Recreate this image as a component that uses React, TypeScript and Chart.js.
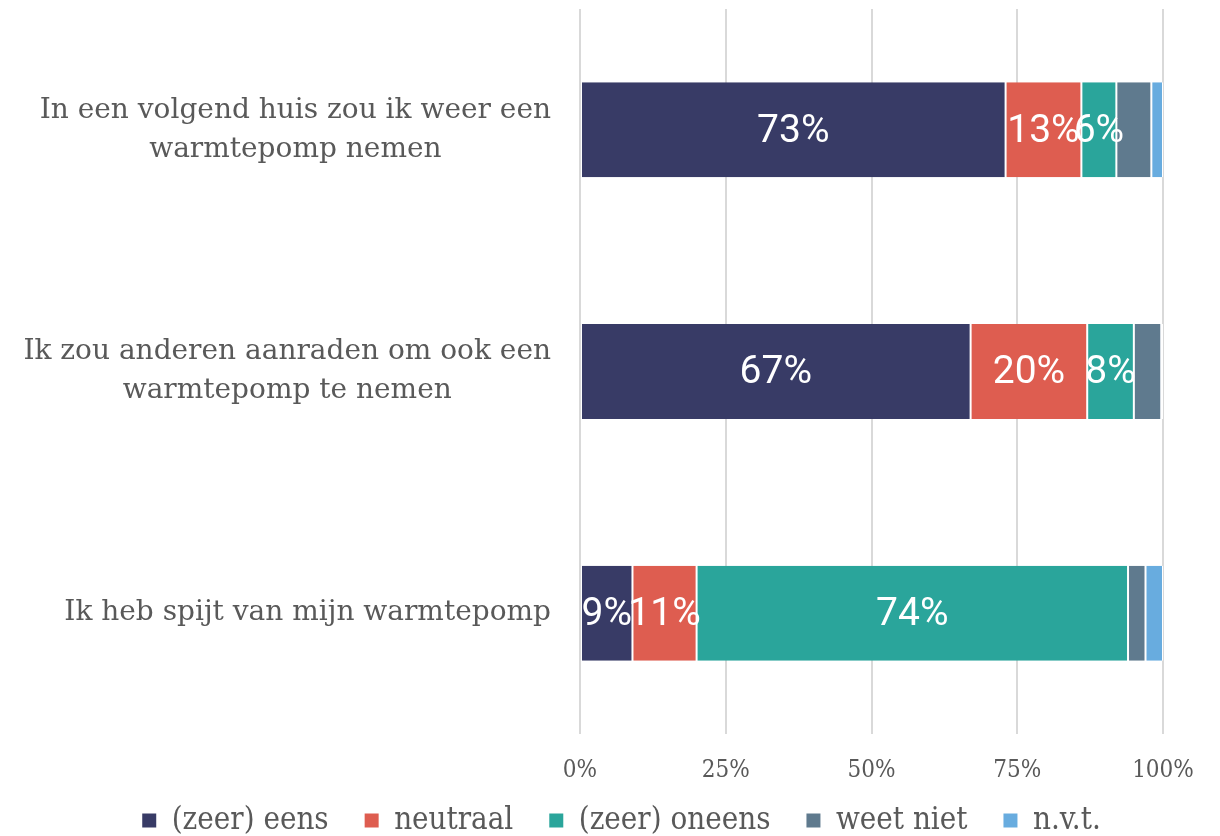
import React, { useEffect, useRef } from "react";
import { Chart, registerables } from "chart.js";

Chart.register(...registerables);

const categories: string[][] = [
  ["In een volgend huis zou ik weer een", "warmtepomp nemen"],
  ["Ik zou anderen aanraden om ook een", "warmtepomp te nemen"],
  ["Ik heb spijt van mijn warmtepomp"],
];
const seriesNames = ["(zeer) eens", "neutraal", "(zeer) oneens", "weet niet", "n.v.t."];
const eens = [73, 67, 9];
const neutraal = [13, 20, 11];
const oneens = [6, 8, 74];
const weetNiet = [6, 4.7, 3];
const nvt = [2, 0.3, 3];
const colors = ["#383B66", "#DE5D50", "#2AA59B", "#5F7A8E", "#68ACDF"];
const labeledSeries = [0, 1, 2];
const xTicks = ["0%", "25%", "50%", "75%", "100%"];

const CAT_FONT = "28px 'DejaVu Serif'";
const CAT_LINE = 39;
const CAT_GAP = 29;

const labelPlugin = {
  id: "segLabels",
  beforeDraw(chart: any) {
    // let x tick labels extend below the (short) axis box
    chart.scales.x._computeLabelArea = () => undefined;
  },
  afterDatasetsDraw(chart: any) {
    const ctx = chart.ctx;
    ctx.save();
    ctx.fillStyle = "#ffffff";
    ctx.font = "400 39px Roboto";
    ctx.textAlign = "center";
    ctx.textBaseline = "middle";
    labeledSeries.forEach((di) => {
      const meta = chart.getDatasetMeta(di);
      meta.data.forEach((bar: any, i: number) => {
        const v = chart.data.datasets[di].data[i];
        const cx = (bar.x + bar.base) / 2;
        ctx.fillText(Math.round(v) + "%", cx, bar.y + 2);
      });
    });
    ctx.restore();
  },
};

const catLabelPlugin = {
  id: "catLabels",
  afterDraw(chart: any) {
    const ctx = chart.ctx;
    const yScale = chart.scales.y;
    const right = chart.chartArea.left - CAT_GAP;
    ctx.save();
    ctx.font = CAT_FONT;
    ctx.fillStyle = "#595959";
    ctx.textAlign = "center";
    ctx.textBaseline = "middle";
    (chart.data.labels as string[][]).forEach((lines, i) => {
      const y = yScale.getPixelForTick(i);
      const maxW = Math.max(...lines.map((l) => ctx.measureText(l).width));
      const cx = right - maxW / 2;
      lines.forEach((l, k) => {
        ctx.fillText(l, cx, y + (k - (lines.length - 1) / 2) * CAT_LINE);
      });
    });
    ctx.restore();
  },
};

export default function App() {
  const ref = useRef<HTMLCanvasElement>(null);
  useEffect(() => {
    const data = [eens, neutraal, oneens, weetNiet, nvt];
    const chart = new Chart(ref.current!, {
      type: "bar",
      data: {
        labels: categories,
        datasets: seriesNames.map((n, i) => ({
          label: n,
          data: data[i],
          backgroundColor: colors[i],
          borderColor: "#ffffff",
          borderWidth: { left: 1, right: 1, top: 0, bottom: 0 } as any,
          borderSkipped: false,
          categoryPercentage: 0.393,
          barPercentage: 1,
        })),
      },
      options: {
        indexAxis: "y",
        animation: false,
        responsive: false,
        maintainAspectRatio: false,
        layout: { padding: { top: 9, right: 57, left: 80, bottom: -10 } },
        scales: {
          x: {
            stacked: true,
            min: 0,
            max: 100,
            border: { display: false },
            grid: { color: "#d9d9d9", lineWidth: 2, drawTicks: false },
            ticks: {
              stepSize: 25,
              padding: 22,
              color: "#595959",
              font: { family: "DejaVu Serif Condensed", size: 24 },
              callback: (_v: any, i: number) => xTicks[i],
            },
            afterFit: (s: any) => {
              s.height = 35;
              s.paddingLeft = 0;
              s.paddingRight = 0;
            },
          },
          y: {
            stacked: true,
            border: { display: false },
            grid: { display: false, drawTicks: false },
            ticks: { display: false },
            afterFit: (s: any) => {
              s.width = 500;
              s.paddingTop = 0;
              s.paddingBottom = 0;
            },
          },
        },
        plugins: {
          tooltip: { enabled: false },
          legend: {
            position: "bottom",
            labels: {
              color: "#595959",
              font: { family: "DejaVu Serif Condensed", size: 31 },
              boxWidth: 14,
              boxHeight: 14,
              padding: 36,
              useBorderRadius: false,
              generateLabels: (c: any) =>
                c.data.datasets.map((d: any, i: number) => ({
                  text: d.label,
                  fillStyle: colors[i],
                  strokeStyle: colors[i],
                  lineWidth: 0,
                  datasetIndex: i,
                  fontColor: "#595959",
                })),
            },
          },
        },
      },
      plugins: [labelPlugin, catLabelPlugin],
    });
    return () => chart.destroy();
  }, []);
  return (
    <div style={{ position: "fixed", left: 0, top: 0, width: 1220, height: 836, background: "#fff" }}>
      <canvas ref={ref} width={1220} height={836} style={{ width: 1220, height: 836 }} />
    </div>
  );
}
